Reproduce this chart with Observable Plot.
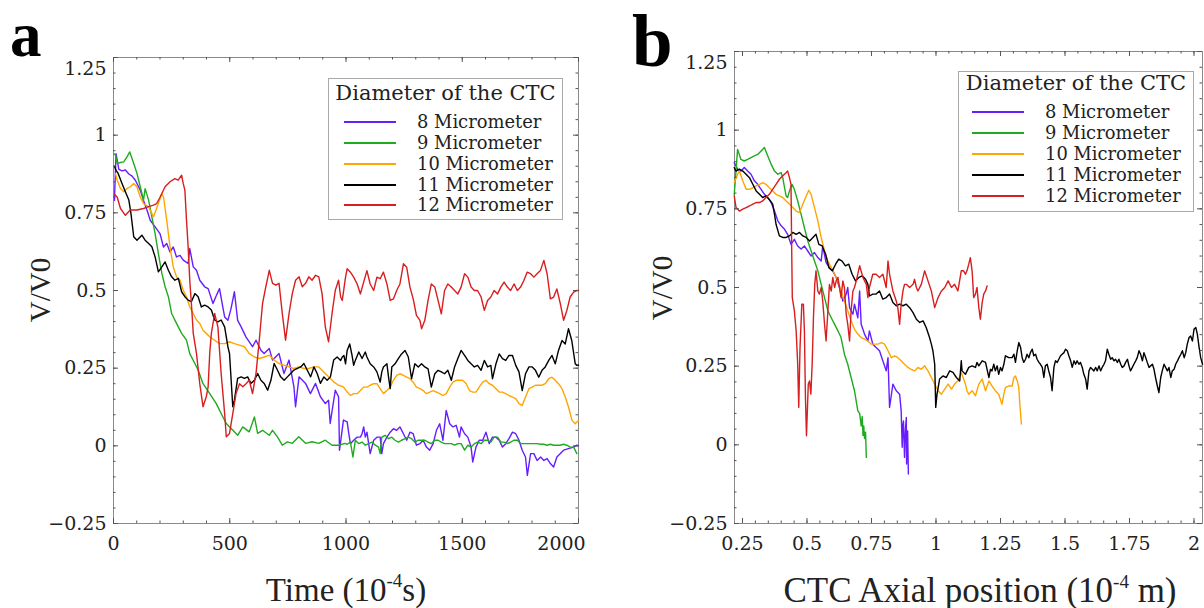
<!DOCTYPE html>
<html><head><meta charset="utf-8">
<script src="https://cdn.jsdelivr.net/npm/d3@7"></script>
<script src="https://cdn.jsdelivr.net/npm/@observablehq/plot@0.6"></script>
<style>
html,body{margin:0;padding:0;background:#fff;}
body{width:1204px;height:608px;overflow:hidden;position:relative;font-family:"DejaVu Serif",serif;color:#222;}
.panel{position:absolute;top:0;}
.letter{position:absolute;font-family:"Liberation Serif",serif;font-weight:bold;line-height:0.6;color:#000;}
.xtitle{position:absolute;font-family:"Liberation Serif",serif;font-size:33px;line-height:1;white-space:nowrap;transform:translateX(-50%);color:#222;}
.xtitle sup{font-size:19px;vertical-align:0;position:relative;top:-14px;}
.ytitle{position:absolute;font-family:"Liberation Serif",serif;font-size:29px;line-height:1;white-space:nowrap;transform:translate(-50%,-50%) rotate(-90deg);color:#222;}
.legend{position:absolute;border:1.5px solid #aaa;background:#fff;box-sizing:border-box;}
.legend .ttl{position:absolute;left:0;right:0;text-align:center;font-size:21px;line-height:21px;color:#222;white-space:nowrap;}
.legend .sw{position:absolute;height:2px;}
.legend .lab{position:absolute;font-size:17.9px;line-height:18px;white-space:nowrap;color:#222;}
</style></head><body>
<div id="pa" class="panel" style="left:0px"></div>
<div id="pb" class="panel" style="left:600px"></div>
<script>
// ---------- labels / categories ----------
const seriesNames = ["8 Micrometer", "9 Micrometer", "10 Micrometer", "11 Micrometer", "12 Micrometer"];
const seriesColors = ["#661eff", "#1faa1f", "#ffa500", "#000000", "#d81e1e"];
const legendTitle = "Diameter of the CTC";
const yTicks = [-0.25, 0, 0.25, 0.5, 0.75, 1, 1.25];
const yTickLabels = ["\u22120.25", "0", "0.25", "0.5", "0.75", "1", "1.25"];
const xTicksA = [0, 500, 1000, 1500, 2000];
const xTickLabelsA = ["0", "500", "1000", "1500", "2000"];
const xTicksB = [0.25, 0.5, 0.75, 1, 1.25, 1.5, 1.75, 2];
const xTickLabelsB = ["0.25", "0.5", "0.75", "1", "1.25", "1.5", "1.75", "2"];

// ---------- panel a : [time (1e-4 s), V/V0] ----------
const a8 = [[4,0.79],[11,0.94],[23,0.89],[37,0.885],[51,0.888],[66,0.875],[80,0.868],[94,0.855],[115,0.823],[129,0.79],[144,0.759],[158,0.726],[179,0.705],[200,0.683],[215,0.64],[229,0.651],[243,0.624],[257,0.64],[271,0.608],[286,0.613],[300,0.598],[321,0.587],[328,0.635],[343,0.576],[357,0.565],[371,0.533],[392,0.512],[407,0.506],[414,0.49],[428,0.458],[440,0.48],[456,0.506],[470,0.447],[478,0.415],[492,0.404],[505,0.44],[520,0.496],[534,0.404],[549,0.383],[570,0.35],[598,0.319],[613,0.34],[634,0.308],[648,0.297],[670,0.313],[684,0.276],[712,0.297],[733,0.233],[755,0.276],[776,0.19],[783,0.126],[798,0.222],[826,0.201],[847,0.168],[869,0.201],[890,0.158],[911,0.136],[925,0.147],[932,0.072],[954,0.179],[968,0.158],[972,-0.014],[989,0.083],[1005,0.077],[1012,0.039],[1019,0.007],[1033,0.018],[1048,0.028],[1062,0.028],[1069,0.039],[1076,0.061],[1083,0.028],[1090,0.044],[1104,-0.025],[1119,0.018],[1133,0.028],[1147,0.028],[1154,-0.025],[1161,0.007],[1176,0.028],[1190,0.044],[1204,0.055],[1218,0.05],[1232,0.061],[1247,0.039],[1261,0.018],[1275,0.044],[1289,0.039],[1303,0.002],[1318,0.007],[1332,0.018],[1346,-0.004],[1360,-0.014],[1375,0.007],[1389,0.05],[1403,0.071],[1417,0.018],[1431,0.114],[1446,0.071],[1460,0.061],[1474,0.066],[1488,0.028],[1495,0.061],[1510,0.039],[1524,0.028],[1538,-0.004],[1545,-0.052],[1559,-0.004],[1573,0.018],[1588,0.018],[1602,0.044],[1616,0.007],[1630,0.028],[1645,0.028],[1659,0.018],[1673,-0.004],[1687,0.007],[1701,0.023],[1716,0.044],[1730,0.039],[1744,0.018],[1758,-0.014],[1772,-0.036],[1780,-0.095],[1794,-0.025],[1808,-0.025],[1822,-0.047],[1837,-0.036],[1851,-0.047],[1865,-0.041],[1879,-0.057],[1893,-0.068],[1907,-0.036],[1922,-0.025],[1936,-0.014],[1957,-0.009],[1979,-0.004],[1993,0.002],[2000,0]];
const a9 = [[2,0.94],[9,0.935],[16,0.909],[30,0.912],[44,0.914],[58,0.93],[70,0.946],[87,0.909],[101,0.877],[115,0.834],[129,0.791],[136,0.828],[151,0.791],[165,0.737],[179,0.683],[193,0.619],[208,0.555],[222,0.512],[236,0.48],[250,0.426],[271,0.394],[293,0.362],[314,0.34],[328,0.297],[350,0.265],[364,0.244],[385,0.2],[414,0.168],[442,0.136],[463,0.104],[485,0.072],[506,0.056],[534,0.034],[556,0.061],[584,0.045],[606,0.093],[620,0.04],[641,0.05],[670,0.034],[684,0.05],[705,0.029],[726,0.002],[748,0.013],[769,0.008],[797,0.029],[826,0.008],[854,0.013],[883,0.008],[911,0.018],[940,0.002],[968,0.002],[996,0.008],[1005,0.005],[1019,0.012],[1030,-0.036],[1040,0.018],[1055,0.007],[1069,0.012],[1083,0.002],[1097,0.007],[1112,0.012],[1126,0.002],[1140,-0.004],[1147,-0.025],[1154,0.028],[1168,0.034],[1183,0.023],[1197,0.028],[1211,0.018],[1225,0.012],[1239,0.018],[1254,0.023],[1268,0.028],[1282,0.023],[1296,0.012],[1311,0.018],[1325,0.018],[1339,0.018],[1353,0.012],[1367,0.007],[1381,0.018],[1396,0.018],[1410,0.012],[1424,0.007],[1438,0.007],[1453,0.007],[1467,0.002],[1481,0.007],[1495,0.007],[1510,-0.014],[1524,0.002],[1538,-0.004],[1552,0.007],[1566,0.012],[1581,0.007],[1595,0.018],[1609,0.018],[1623,0.012],[1637,0.028],[1652,0.028],[1666,0.012],[1680,0.012],[1694,0.007],[1708,0.012],[1722,0.018],[1737,0.018],[1751,0.007],[1765,0.007],[1779,0.007],[1793,0.007],[1808,0.007],[1822,0.007],[1836,0.005],[1850,0.005],[1865,0.002],[1879,0.005],[1893,0.002],[1907,0.002],[1921,0.002],[1936,0.005],[1950,0.002],[1964,-0.004],[1979,-0.004],[1993,-0.025]];
const a10 = [[8,0.877],[16,0.855],[30,0.828],[44,0.818],[58,0.828],[72,0.834],[87,0.844],[101,0.834],[115,0.801],[129,0.78],[151,0.769],[172,0.737],[193,0.78],[208,0.812],[215,0.801],[229,0.726],[243,0.641],[257,0.576],[271,0.544],[286,0.533],[300,0.501],[314,0.48],[328,0.447],[343,0.426],[357,0.405],[371,0.394],[385,0.372],[399,0.362],[414,0.351],[435,0.34],[456,0.329],[478,0.329],[499,0.335],[520,0.329],[542,0.324],[563,0.319],[584,0.297],[606,0.286],[627,0.281],[648,0.286],[670,0.292],[691,0.276],[712,0.265],[733,0.26],[755,0.254],[776,0.249],[797,0.254],[819,0.249],[840,0.249],[861,0.254],[883,0.254],[904,0.238],[925,0.222],[947,0.206],[968,0.195],[989,0.19],[1005,0.173],[1019,0.162],[1033,0.168],[1048,0.168],[1062,0.178],[1076,0.189],[1090,0.189],[1104,0.195],[1119,0.2],[1133,0.2],[1147,0.184],[1161,0.168],[1176,0.178],[1190,0.189],[1204,0.211],[1218,0.227],[1232,0.232],[1247,0.227],[1261,0.221],[1275,0.216],[1289,0.205],[1303,0.189],[1318,0.184],[1332,0.178],[1346,0.168],[1360,0.173],[1375,0.178],[1389,0.173],[1403,0.168],[1417,0.162],[1431,0.168],[1446,0.189],[1460,0.205],[1474,0.211],[1488,0.211],[1502,0.211],[1517,0.2],[1531,0.178],[1545,0.173],[1559,0.173],[1573,0.189],[1588,0.205],[1602,0.211],[1616,0.2],[1630,0.195],[1645,0.184],[1659,0.173],[1673,0.173],[1687,0.168],[1701,0.162],[1716,0.157],[1730,0.152],[1744,0.136],[1758,0.13],[1772,0.157],[1787,0.184],[1801,0.189],[1815,0.195],[1829,0.195],[1843,0.195],[1857,0.2],[1872,0.216],[1886,0.221],[1900,0.211],[1914,0.2],[1929,0.184],[1943,0.157],[1957,0.125],[1972,0.082],[1986,0.071],[1993,0.077],[2000,0.08]];
const a11 = [[4,0.9],[11,0.887],[20,0.877],[37,0.844],[51,0.818],[66,0.791],[75,0.748],[87,0.673],[101,0.662],[122,0.678],[136,0.662],[151,0.651],[165,0.641],[179,0.608],[193,0.56],[208,0.576],[222,0.592],[236,0.565],[250,0.544],[264,0.533],[279,0.539],[293,0.496],[307,0.48],[321,0.469],[335,0.464],[350,0.49],[364,0.48],[378,0.447],[392,0.453],[407,0.447],[421,0.437],[435,0.405],[449,0.399],[463,0.405],[478,0.383],[492,0.319],[499,0.297],[513,0.126],[520,0.147],[534,0.217],[549,0.222],[563,0.217],[577,0.222],[591,0.201],[606,0.211],[620,0.233],[634,0.211],[648,0.201],[663,0.179],[677,0.211],[691,0.265],[705,0.244],[719,0.222],[734,0.211],[748,0.222],[762,0.233],[776,0.244],[791,0.249],[805,0.254],[819,0.265],[833,0.244],[848,0.222],[862,0.254],[876,0.233],[890,0.201],[905,0.222],[919,0.211],[933,0.222],[947,0.276],[962,0.286],[977,0.275],[984,0.286],[991,0.291],[998,0.264],[1005,0.307],[1016,0.328],[1026,0.291],[1033,0.259],[1040,0.275],[1055,0.302],[1069,0.281],[1083,0.302],[1090,0.286],[1104,0.264],[1119,0.254],[1133,0.238],[1147,0.205],[1154,0.238],[1161,0.254],[1176,0.264],[1183,0.221],[1190,0.184],[1197,0.254],[1211,0.264],[1225,0.281],[1239,0.296],[1254,0.307],[1268,0.286],[1282,0.216],[1296,0.264],[1311,0.254],[1325,0.264],[1339,0.254],[1353,0.248],[1367,0.189],[1382,0.232],[1396,0.243],[1410,0.238],[1424,0.232],[1438,0.243],[1453,0.211],[1467,0.254],[1481,0.281],[1495,0.307],[1510,0.291],[1524,0.275],[1538,0.264],[1552,0.254],[1566,0.259],[1581,0.243],[1595,0.275],[1609,0.254],[1623,0.259],[1630,0.216],[1645,0.264],[1659,0.296],[1673,0.281],[1687,0.275],[1701,0.291],[1716,0.291],[1730,0.259],[1744,0.238],[1758,0.178],[1772,0.232],[1787,0.254],[1801,0.254],[1815,0.243],[1829,0.221],[1843,0.243],[1857,0.254],[1872,0.275],[1886,0.291],[1900,0.264],[1914,0.307],[1929,0.339],[1943,0.328],[1957,0.377],[1971,0.339],[1986,0.264],[1993,0.259],[2000,0.26]];
const a12 = [[4,0.81],[16,0.8],[30,0.764],[51,0.742],[72,0.759],[101,0.759],[129,0.764],[151,0.77],[172,0.775],[186,0.78],[200,0.8],[222,0.834],[243,0.85],[264,0.86],[278,0.855],[293,0.871],[300,0.844],[307,0.823],[314,0.726],[321,0.641],[328,0.533],[336,0.447],[343,0.362],[357,0.297],[371,0.2],[385,0.126],[399,0.158],[407,0.19],[414,0.3],[421,0.362],[435,0.426],[449,0.383],[463,0.233],[478,0.104],[485,0.029],[499,0.04],[513,0.104],[527,0.168],[542,0.2],[556,0.19],[570,0.2],[584,0.211],[598,0.168],[613,0.233],[627,0.34],[641,0.458],[655,0.512],[670,0.565],[684,0.523],[698,0.517],[712,0.523],[726,0.426],[740,0.34],[755,0.426],[769,0.49],[783,0.533],[798,0.544],[812,0.512],[826,0.523],[840,0.544],[854,0.533],[869,0.549],[883,0.544],[897,0.49],[911,0.383],[925,0.335],[940,0.426],[954,0.501],[968,0.533],[977,0.479],[984,0.468],[998,0.543],[1005,0.57],[1019,0.559],[1033,0.543],[1048,0.521],[1062,0.489],[1076,0.527],[1090,0.564],[1104,0.521],[1119,0.5],[1133,0.543],[1147,0.538],[1161,0.559],[1176,0.521],[1190,0.468],[1204,0.473],[1218,0.5],[1232,0.521],[1247,0.586],[1261,0.575],[1275,0.511],[1289,0.473],[1303,0.42],[1318,0.404],[1325,0.377],[1339,0.404],[1353,0.468],[1367,0.521],[1382,0.511],[1396,0.468],[1410,0.425],[1424,0.5],[1438,0.521],[1453,0.511],[1467,0.5],[1481,0.489],[1495,0.511],[1510,0.554],[1524,0.543],[1538,0.511],[1552,0.5],[1566,0.5],[1581,0.479],[1595,0.436],[1609,0.468],[1623,0.479],[1637,0.5],[1652,0.489],[1666,0.511],[1680,0.527],[1694,0.511],[1708,0.5],[1723,0.521],[1737,0.5],[1751,0.511],[1765,0.532],[1779,0.559],[1794,0.554],[1808,0.543],[1822,0.554],[1836,0.564],[1851,0.597],[1865,0.554],[1879,0.473],[1893,0.479],[1907,0.505],[1922,0.457],[1936,0.404],[1950,0.436],[1964,0.479],[1979,0.495],[1993,0.5],[2000,0.5]];

// ---------- panel b : [CTC axial position (1e-4 m), V/V0] ----------
const b8 = [[0.218,0.897],[0.231,0.876],[0.244,0.87],[0.257,0.881],[0.27,0.87],[0.283,0.86],[0.296,0.839],[0.309,0.828],[0.322,0.812],[0.335,0.796],[0.348,0.786],[0.361,0.77],[0.374,0.743],[0.387,0.712],[0.4,0.696],[0.413,0.685],[0.425,0.669],[0.438,0.637],[0.451,0.653],[0.464,0.632],[0.477,0.622],[0.49,0.632],[0.503,0.616],[0.516,0.6],[0.529,0.611],[0.542,0.595],[0.555,0.584],[0.561,0.632],[0.574,0.579],[0.587,0.563],[0.6,0.553],[0.613,0.532],[0.626,0.5],[0.639,0.457],[0.652,0.479],[0.658,0.5],[0.665,0.436],[0.678,0.415],[0.684,0.447],[0.697,0.404],[0.704,0.489],[0.71,0.383],[0.723,0.352],[0.736,0.33],[0.742,0.362],[0.755,0.32],[0.768,0.309],[0.781,0.299],[0.794,0.267],[0.807,0.235],[0.814,0.277],[0.82,0.119],[0.833,0.193],[0.846,0.172],[0.859,0.161],[0.865,0.108],[0.869,-0.008],[0.872,0.066],[0.874,0.076],[0.878,-0.04],[0.882,0.055],[0.885,0.087],[0.886,-0.061],[0.89,0.044],[0.893,-0.093]];
const b9 = [[0.218,0.796],[0.231,0.939],[0.244,0.907],[0.257,0.902],[0.27,0.907],[0.283,0.913],[0.296,0.918],[0.309,0.923],[0.322,0.934],[0.335,0.945],[0.348,0.918],[0.361,0.892],[0.374,0.87],[0.387,0.86],[0.4,0.865],[0.406,0.849],[0.413,0.817],[0.419,0.791],[0.425,0.786],[0.432,0.807],[0.442,0.828],[0.451,0.812],[0.464,0.775],[0.477,0.733],[0.49,0.69],[0.503,0.648],[0.516,0.616],[0.529,0.584],[0.542,0.553],[0.555,0.51],[0.568,0.468],[0.581,0.426],[0.594,0.404],[0.607,0.383],[0.62,0.362],[0.632,0.341],[0.645,0.288],[0.658,0.256],[0.671,0.214],[0.684,0.172],[0.697,0.108],[0.704,0.1],[0.71,0.06],[0.714,0.09],[0.717,0.03],[0.72,0.06],[0.723,0.02],[0.727,0.04],[0.73,-0.04]];
const b10 = [[0.218,0.833],[0.231,0.86],[0.238,0.87],[0.251,0.839],[0.264,0.812],[0.277,0.812],[0.29,0.817],[0.303,0.823],[0.316,0.828],[0.328,0.833],[0.341,0.828],[0.354,0.817],[0.367,0.807],[0.38,0.796],[0.393,0.791],[0.406,0.786],[0.419,0.775],[0.432,0.765],[0.445,0.754],[0.458,0.743],[0.471,0.738],[0.484,0.765],[0.497,0.791],[0.507,0.809],[0.516,0.796],[0.529,0.754],[0.542,0.712],[0.555,0.659],[0.568,0.616],[0.581,0.584],[0.594,0.563],[0.607,0.542],[0.62,0.521],[0.632,0.489],[0.645,0.457],[0.658,0.426],[0.671,0.394],[0.684,0.367],[0.697,0.352],[0.71,0.341],[0.723,0.336],[0.736,0.33],[0.749,0.32],[0.762,0.32],[0.775,0.32],[0.788,0.325],[0.801,0.32],[0.814,0.299],[0.827,0.277],[0.84,0.283],[0.852,0.277],[0.865,0.267],[0.878,0.256],[0.891,0.246],[0.904,0.24],[0.917,0.235],[0.93,0.246],[0.943,0.24],[0.956,0.251],[0.969,0.235],[0.982,0.214],[0.995,0.193],[1.008,0.172],[1.021,0.161],[1.034,0.177],[1.047,0.193],[1.06,0.177],[1.072,0.193],[1.085,0.203],[1.098,0.23],[1.114,0.193],[1.12,0.172],[1.127,0.161],[1.14,0.172],[1.153,0.156],[1.166,0.193],[1.179,0.209],[1.192,0.172],[1.205,0.203],[1.217,0.187],[1.23,0.172],[1.243,0.161],[1.256,0.129],[1.263,0.161],[1.269,0.182],[1.282,0.187],[1.295,0.187],[1.302,0.214],[1.308,0.219],[1.315,0.203],[1.321,0.182],[1.325,0.129],[1.329,0.087],[1.331,0.066]];
const b11 = [[0.218,0.881],[0.225,0.87],[0.238,0.876],[0.251,0.87],[0.264,0.86],[0.277,0.849],[0.29,0.828],[0.303,0.807],[0.316,0.796],[0.328,0.786],[0.341,0.791],[0.354,0.78],[0.367,0.765],[0.374,0.733],[0.38,0.701],[0.393,0.664],[0.406,0.659],[0.419,0.659],[0.432,0.664],[0.445,0.675],[0.458,0.669],[0.471,0.675],[0.484,0.664],[0.497,0.659],[0.51,0.648],[0.523,0.659],[0.535,0.669],[0.546,0.637],[0.559,0.632],[0.572,0.606],[0.585,0.563],[0.598,0.553],[0.611,0.574],[0.623,0.59],[0.636,0.584],[0.649,0.569],[0.662,0.574],[0.675,0.542],[0.688,0.521],[0.701,0.532],[0.714,0.537],[0.727,0.526],[0.736,0.51],[0.742,0.473],[0.755,0.479],[0.768,0.479],[0.781,0.489],[0.794,0.463],[0.807,0.468],[0.82,0.479],[0.833,0.452],[0.846,0.442],[0.859,0.447],[0.872,0.442],[0.885,0.447],[0.898,0.436],[0.911,0.42],[0.924,0.399],[0.937,0.389],[0.95,0.394],[0.962,0.373],[0.975,0.341],[0.982,0.32],[0.988,0.299],[0.995,0.256],[0.999,0.119],[1.004,0.161],[1.014,0.209],[1.027,0.219],[1.04,0.214],[1.053,0.235],[1.066,0.23],[1.079,0.214],[1.092,0.203],[1.098,0.267],[1.101,0.235],[1.114,0.224],[1.127,0.246],[1.14,0.251],[1.153,0.246],[1.159,0.262],[1.166,0.251],[1.179,0.267],[1.192,0.262],[1.198,0.24],[1.205,0.214],[1.211,0.24],[1.217,0.235],[1.224,0.256],[1.23,0.235],[1.237,0.251],[1.243,0.224],[1.25,0.246],[1.256,0.235],[1.263,0.256],[1.269,0.283],[1.282,0.277],[1.295,0.277],[1.302,0.288],[1.308,0.262],[1.315,0.299],[1.321,0.325],[1.328,0.309],[1.334,0.277],[1.34,0.262],[1.347,0.272],[1.353,0.288],[1.36,0.277],[1.366,0.293],[1.373,0.304],[1.379,0.283],[1.386,0.288],[1.392,0.272],[1.399,0.262],[1.405,0.256],[1.412,0.246],[1.418,0.214],[1.424,0.251],[1.431,0.256],[1.437,0.235],[1.444,0.214],[1.45,0.172],[1.457,0.246],[1.463,0.267],[1.47,0.262],[1.476,0.272],[1.483,0.283],[1.489,0.288],[1.496,0.293],[1.502,0.304],[1.509,0.299],[1.515,0.283],[1.522,0.267],[1.528,0.246],[1.535,0.267],[1.541,0.256],[1.547,0.267],[1.554,0.256],[1.56,0.262],[1.567,0.246],[1.573,0.224],[1.58,0.209],[1.586,0.177],[1.593,0.235],[1.599,0.246],[1.606,0.24],[1.612,0.235],[1.619,0.246],[1.625,0.235],[1.632,0.251],[1.638,0.235],[1.644,0.246],[1.651,0.256],[1.657,0.267],[1.664,0.304],[1.67,0.288],[1.677,0.272],[1.683,0.277],[1.69,0.267],[1.696,0.272],[1.703,0.262],[1.709,0.272],[1.716,0.256],[1.722,0.246],[1.729,0.251],[1.735,0.262],[1.742,0.272],[1.748,0.251],[1.754,0.235],[1.761,0.246],[1.767,0.256],[1.774,0.267],[1.78,0.277],[1.787,0.299],[1.793,0.288],[1.8,0.267],[1.806,0.293],[1.813,0.277],[1.819,0.262],[1.826,0.246],[1.832,0.251],[1.839,0.256],[1.845,0.24],[1.851,0.214],[1.858,0.187],[1.864,0.166],[1.871,0.214],[1.877,0.235],[1.884,0.256],[1.89,0.246],[1.897,0.235],[1.903,0.246],[1.91,0.214],[1.916,0.235],[1.923,0.24],[1.929,0.256],[1.936,0.267],[1.942,0.277],[1.949,0.288],[1.955,0.299],[1.962,0.277],[1.968,0.293],[1.974,0.32],[1.981,0.341],[1.987,0.346],[1.994,0.33],[2.0,0.367],[2.007,0.373],[2.013,0.352],[2.02,0.309],[2.026,0.277],[2.033,0.256]];
const b12 = [[0.218,0.791],[0.225,0.754],[0.238,0.743],[0.251,0.749],[0.264,0.754],[0.277,0.759],[0.29,0.765],[0.303,0.77],[0.316,0.77],[0.328,0.775],[0.341,0.786],[0.354,0.796],[0.367,0.812],[0.38,0.828],[0.393,0.844],[0.406,0.855],[0.419,0.865],[0.425,0.87],[0.432,0.849],[0.438,0.828],[0.441,0.6],[0.443,0.468],[0.451,0.426],[0.458,0.362],[0.464,0.256],[0.468,0.119],[0.473,0.309],[0.48,0.447],[0.486,0.447],[0.49,0.362],[0.494,0.15],[0.498,0.029],[0.505,0.193],[0.51,0.203],[0.515,0.161],[0.52,0.256],[0.525,0.404],[0.53,0.51],[0.535,0.553],[0.542,0.489],[0.548,0.479],[0.555,0.5],[0.561,0.457],[0.568,0.383],[0.574,0.33],[0.581,0.426],[0.587,0.51],[0.594,0.489],[0.6,0.532],[0.607,0.5],[0.613,0.521],[0.62,0.532],[0.626,0.5],[0.632,0.468],[0.639,0.521],[0.645,0.5],[0.652,0.415],[0.658,0.383],[0.665,0.33],[0.671,0.426],[0.678,0.489],[0.684,0.5],[0.691,0.521],[0.704,0.569],[0.717,0.532],[0.73,0.51],[0.736,0.468],[0.742,0.5],[0.755,0.542],[0.768,0.542],[0.781,0.532],[0.794,0.542],[0.807,0.5],[0.814,0.584],[0.82,0.542],[0.833,0.489],[0.846,0.457],[0.852,0.436],[0.859,0.383],[0.865,0.447],[0.872,0.489],[0.878,0.51],[0.885,0.51],[0.898,0.5],[0.911,0.51],[0.917,0.526],[0.924,0.5],[0.93,0.489],[0.943,0.51],[0.956,0.553],[0.969,0.521],[0.982,0.489],[0.995,0.436],[1.008,0.468],[1.021,0.489],[1.034,0.5],[1.047,0.521],[1.06,0.5],[1.072,0.51],[1.085,0.489],[1.098,0.553],[1.107,0.553],[1.114,0.542],[1.12,0.553],[1.127,0.574],[1.133,0.595],[1.14,0.553],[1.146,0.468],[1.153,0.479],[1.159,0.5],[1.166,0.436],[1.172,0.399],[1.179,0.452],[1.185,0.479],[1.192,0.489],[1.198,0.505]];

const seriesA = [a8, a9, a10, a11, a12];
const seriesB = [b8, b9, b10, b11, b12];

function makePanel({series, xDomain, xTicks, xTickLabels, xMinorStep, width, marginLeft, marginRight, marginTop, marginBottom, lastXdx}) {
  const height = 608;
  const W = width - marginLeft - marginRight;
  const H = height - marginTop - marginBottom;
  const xMinor = d3.range(xTicks[0], xDomain[1] + 1e-9, xMinorStep).filter(v => v >= xDomain[0]);
  const yMinor = d3.range(-0.25, 1.2501, 0.05);
  const tickStroke = "#555";
  const maj = 5, mnr = 2.5;
  const fmtY = d => yTickLabels[yTicks.indexOf(d)];
  const fmtX = d => xTickLabels[xTicks.indexOf(d)];
  const xMain = lastXdx ? xTicks.slice(0, -1) : xTicks;
  const marks = [
    Plot.frame({stroke: "#8a8a8a", strokeWidth: 1}),
    ...series.map((s, i) => Plot.line(s, {x: d => d[0], y: d => d[1], stroke: seriesColors[i], strokeWidth: 1.4})),
    // inward ticks (left / right)
    Plot.tickY(yTicks, {y: d => d, insetRight: W - maj, stroke: tickStroke}),
    Plot.tickY(yMinor, {y: d => d, insetRight: W - mnr, stroke: tickStroke}),
    Plot.tickY(yTicks, {y: d => d, insetLeft: W - maj, stroke: tickStroke}),
    Plot.tickY(yMinor, {y: d => d, insetLeft: W - mnr, stroke: tickStroke}),
    // inward ticks (bottom / top)
    Plot.tickX(xTicks, {x: d => d, insetTop: H - maj, stroke: tickStroke}),
    Plot.tickX(xMinor, {x: d => d, insetTop: H - mnr, stroke: tickStroke}),
    Plot.tickX(xTicks, {x: d => d, insetBottom: H - maj, stroke: tickStroke}),
    Plot.tickX(xMinor, {x: d => d, insetBottom: H - mnr, stroke: tickStroke}),
    // tick labels
    Plot.axisY(yTicks.slice(0, -1), {tickSize: 0, tickPadding: 7, tickFormat: fmtY, label: null}),
    Plot.axisY(yTicks.slice(-1), {tickSize: 0, tickPadding: 7, tickFormat: fmtY, label: null, dy: 11}),
    Plot.axisX(xMain, {tickSize: 0, tickPadding: 13, tickFormat: fmtX, label: null})
  ];
  if (lastXdx) marks.push(Plot.axisX(xTicks.slice(-1), {tickSize: 0, tickPadding: 13, tickFormat: fmtX, label: null, dx: lastXdx}));
  return Plot.plot({
    width, height, marginLeft, marginRight, marginTop, marginBottom,
    style: {fontFamily: "'DejaVu Serif', serif", fontSize: "19px", color: "#222", background: "transparent", overflow: "visible"},
    x: {domain: xDomain},
    y: {domain: [-0.25, 1.25]},
    marks
  });
}

document.getElementById("pa").append(makePanel({
  series: seriesA, xDomain: [0, 2000], xTicks: xTicksA, xTickLabels: xTickLabelsA, xMinorStep: 100,
  width: 600, marginLeft: 113, marginRight: 22, marginTop: 57, marginBottom: 85, lastXdx: -17
}));
document.getElementById("pb").append(makePanel({
  series: seriesB, xDomain: [0.219, 2.033], xTicks: xTicksB, xTickLabels: xTickLabelsB, xMinorStep: 0.05,
  width: 604, marginLeft: 134, marginRight: 2, marginTop: 51, marginBottom: 85, lastXdx: 0
}));

// ---------- HTML text: letters, axis titles, legends ----------
function addEl(cls, style, html) {
  const el = document.createElement("div");
  el.className = cls;
  Object.assign(el.style, style);
  el.innerHTML = html;
  document.body.append(el);
  return el;
}
addEl("letter", {left: "10px", top: "17px", fontSize: "63px"}, "a");
addEl("letter", {left: "632px", top: "20px", fontSize: "73px"}, "b");
addEl("xtitle", {left: "346px", top: "574px"}, "Time (10<sup>-4</sup>s)");
addEl("xtitle", {left: "980px", top: "573px", fontSize: "35px"}, "CTC Axial position (10<sup>-4</sup> m)");
addEl("ytitle", {left: "40px", top: "290px"}, "V/V0");
addEl("ytitle", {left: "662px", top: "288px"}, "V/V0");

function addLegend(left, top, width, height, titleY, rowYs, swX, swW, labX) {
  const box = addEl("legend", {left: left + "px", top: top + "px", width: width + "px", height: height + "px"}, "");
  const t = document.createElement("div");
  t.className = "ttl"; t.style.top = (titleY - 11) + "px"; t.textContent = legendTitle;
  box.append(t);
  seriesNames.forEach((name, i) => {
    const sw = document.createElement("div");
    sw.className = "sw";
    Object.assign(sw.style, {left: swX + "px", width: swW + "px", top: (rowYs[i] - 1) + "px", background: seriesColors[i]});
    box.append(sw);
    const lab = document.createElement("div");
    lab.className = "lab";
    Object.assign(lab.style, {left: labX + "px", top: (rowYs[i] - 9) + "px"});
    lab.textContent = name;
    box.append(lab);
  });
}
addLegend(328, 78, 235, 142, 15, [43, 64, 85, 106, 126], 15, 52, 88);
addLegend(958, 71, 236, 141, 12, [40, 61, 82, 103, 124], 13, 52, 86);
</script>
</body></html>
